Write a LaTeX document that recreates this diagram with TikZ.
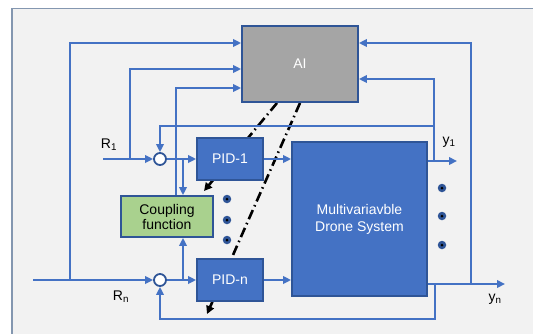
\documentclass[tikz,border=0pt]{standalone}
\usepackage{fontspec}
\setmainfont{Liberation Sans}
\usetikzlibrary{arrows.meta,calc}
\definecolor{lblue}{HTML}{4472C4}
\definecolor{dblue}{HTML}{2F5597}
\definecolor{bggray}{HTML}{F2F2F2}
\definecolor{framec}{HTML}{8497B0}
\definecolor{aigray}{HTML}{A5A5A5}
\definecolor{cgreen}{HTML}{A9D18E}
\begin{document}
\begin{tikzpicture}[x=1pt,y=-1pt,
  line/.style={lblue, line width=2.3pt},
  arr/.style={line, -{Triangle[length=8pt,width=7.5pt]}},
  blk/.style={draw=dblue, line width=1.8pt, fill=lblue, text=white, align=center, inner sep=0pt, font=\fontsize{14}{17}\selectfont},
  aiblk/.style={blk, fill=aigray},
  cfblk/.style={blk, fill=cgreen, text=black, font=\fontsize{14}{15}\selectfont},
  sumc/.style={circle, draw=dblue, line width=1.8pt, fill=white, minimum size=12pt, inner sep=0pt},
  dotc/.style={circle, fill=dblue, minimum size=8.5pt, inner sep=0pt},
  dotin/.style={circle, fill=black, minimum size=3pt, inner sep=0pt},
  dd/.style={black, line width=2.6pt, dash pattern=on 10pt off 4pt on 1.5pt off 4pt, -{Triangle[length=8pt,width=8pt]}},
  lbl/.style={font=\fontsize{14}{15}\selectfont, inner sep=0pt}]
\useasboundingbox (0,0) rectangle (533,333);
\clip (0,0) rectangle (533,333);
\fill[white] (0,0) rectangle (533,333);
\draw[framec, line width=1.2pt, fill=bggray] (12,8.5) rectangle (560,360);

% dash-dot lines (under the boxes)
\coordinate (da0) at (277,103);
\coordinate (da1) at (204,191);
\coordinate (db0) at (300,103);
\coordinate (db1) at (207,314);
\draw[dd] (da0) -- (da1);
\draw[dd] (db0) -- (db1);

% blocks
\node[aiblk, minimum width=116pt, minimum height=76pt] (ai) at (300,64) {AI};
\node[blk, minimum width=135pt, minimum height=154pt] (drone) at (359.5,219) {Multivariavble\\Drone System};
\node[blk, minimum width=66pt, minimum height=42pt] (pid1) at (230,159) {PID-1};
\node[blk, minimum width=66pt, minimum height=42pt] (pidn) at (230,280) {PID-n};
\node[cfblk, minimum width=92pt, minimum height=41pt] (cf) at (167,216.5) {Coupling\\function};
\node[sumc] (s1) at (160,159) {};
\node[sumc] (sn) at (160,280) {};

% junctions
\coordinate (r1) at (103,159);
\coordinate (b1) at (130,159);
\coordinate (rn) at (33,280);
\coordinate (bn) at (70,280);
\coordinate (c1) at (183,159);
\coordinate (cn) at (183,280);
\coordinate (y1j) at (434,161);
\coordinate (y1e) at (457,161);
\coordinate (ynj) at (471,284);
\coordinate (ynf) at (435,284);
\coordinate (yne) at (505,284);

% inputs
\draw[arr] (r1) -- (s1.west);
\draw[arr] (rn) -- (sn.west);
\draw[arr] (b1) -- (130,69) -- (ai.west |- 0,69);
\draw[arr] (bn) -- (70,43) -- (ai.west |- 0,43);
\draw[arr] (s1.east) -- (pid1.west);
\draw[arr] (sn.east) -- (pidn.west);
% coupling
\draw[arr] (c1) -- (cf.north -| c1);
\draw[arr] (cn) -- (cf.south -| cn);
\draw[arr] (cf.north -| 176,0) -- (176,88) -- (ai.west |- 0,88);
% PID to plant
\draw[arr] (pid1.east) -- (drone.west |- pid1.east);
\draw[arr] (pidn.east) -- (drone.west |- pidn.east);
% outputs
\draw[arr] (drone.east |- y1e) -- (y1e);
\draw[arr] (y1j) -- (434,79) -- (ai.east |- 0,79);
\draw[arr] (434,126) -- (160,126) -- (s1.north);
\draw[arr] (drone.east |- yne) -- (yne);
\draw[arr] (ynj) -- (471,43) -- (ai.east |- 0,43);
\draw[arr] (ynf) -- (435,319) -- (160,319) -- (sn.south);

% ellipsis dots
\foreach \px/\py [count=\i] in {227/199,227/220,227/240,442/188,442/216,442/245}{
  \node[dotc] (d\i) at (\px,\py) {};
  \node[dotin] at (d\i) {};
}

% labels
\node[lbl] (lr1) at (109,145) {R\textsubscript{1}};
\node[lbl] (lrn) at (121,297) {R\textsubscript{n}};
\node[lbl] (ly1) at (449,142) {y\textsubscript{1}};
\node[lbl] (lyn) at (495,299) {y\textsubscript{n}};
\end{tikzpicture}
\end{document}
